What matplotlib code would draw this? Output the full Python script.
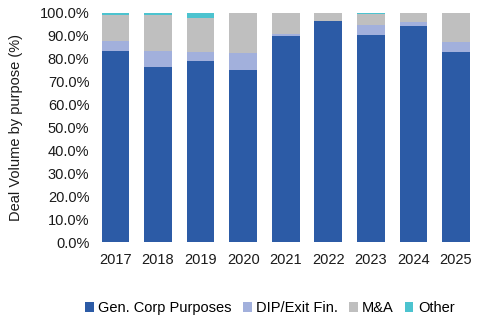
import numpy as np
import matplotlib.pyplot as plt
from matplotlib.ticker import PercentFormatter

plt.rcParams['font.family'] = ['Liberation Sans', 'DejaVu Sans']

years = ["2017", "2018", "2019", "2020", "2021", "2022", "2023", "2024", "2025"]
gen_corp = [83.3, 76.3, 79.0, 75.0, 90.0, 96.3, 90.4, 94.3, 82.9]
dip_exit = [4.4, 7.0, 4.0, 7.5, 0.8, 0.2, 4.3, 1.7, 4.4]
m_and_a = [11.3, 15.7, 14.8, 17.5, 9.2, 3.5, 4.8, 4.0, 12.7]
other = [1.0, 1.0, 2.2, 0.0, 0.0, 0.0, 0.5, 0.0, 0.0]

series = [
    ("Gen. Corp Purposes", gen_corp, "#2C5BA6"),
    ("DIP/Exit Fin.", dip_exit, "#A2B0DC"),
    ("M&A", m_and_a, "#BFBFBF"),
    ("Other", other, "#4CC3CF"),
]

fig = plt.figure(figsize=(4.88, 3.25), dpi=100)
ax = fig.add_axes([0.193, 0.255, 0.785, 0.705])

x = np.arange(len(years))
bottom = np.zeros(len(years))
for name, vals, col in series:
    ax.bar(x, vals, 0.65, bottom=bottom, color=col, label=name)
    bottom += np.array(vals)

ax.set_ylim(0, 100)
ax.set_xlim(-0.5, len(years) - 0.5)
ax.set_yticks(np.arange(0, 101, 10))
ax.yaxis.set_major_formatter(PercentFormatter(decimals=1))
ax.set_xticks(x)
ax.set_xticklabels(years)
ax.tick_params(length=0, labelsize=10.5, colors="#1a1a1a")
ax.tick_params(axis="x", pad=8)
for s in ax.spines.values():
    s.set_visible(False)
ax.set_ylabel("Deal Volume by purpose (%)", fontsize=10.5, color="#1a1a1a", labelpad=12)

fig.legend(loc="lower center", bbox_to_anchor=(0.553, -0.01), ncol=4, frameon=False,
           fontsize=10.5, handlelength=0.6, handleheight=0.6, handletextpad=0.3,
           columnspacing=0.75)

fig.savefig("out.png", dpi=100)
